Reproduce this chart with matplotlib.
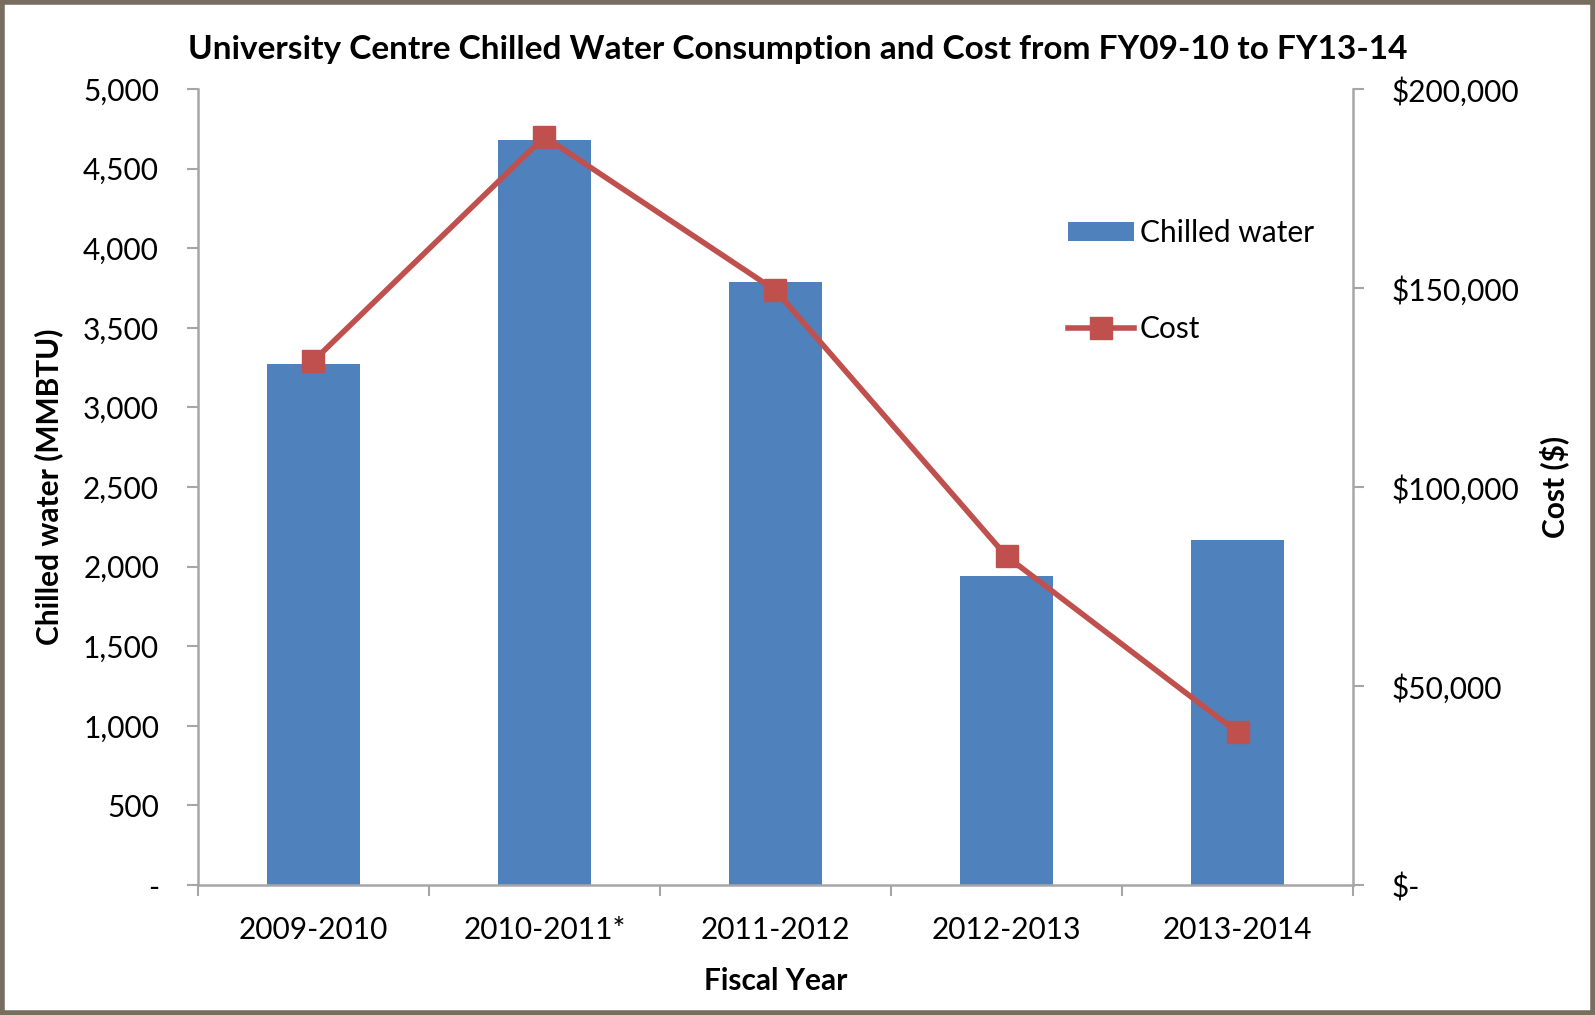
import matplotlib.pyplot as plt
from matplotlib.patches import Rectangle
from matplotlib.ticker import FuncFormatter, MultipleLocator
import numpy as np

plt.rcParams['font.family'] = ['Lato', 'DejaVu Sans']

# data
years = ["2009-2010", "2010-2011*", "2011-2012", "2012-2013", "2013-2014"]
chilled_water = [3275, 4680, 3790, 1940, 2165]     # MMBTU
cost = [131700, 188000, 149400, 82600, 38400]      # $

bar_color = "#4F81BD"
line_color = "#C0504D"
axis_grey = "#A6A6A6"
fs = 21.5

fig = plt.figure(figsize=(15.95, 10.15), dpi=100)
ax = fig.add_axes([0.1241, 0.128, 0.7242, 0.7843])

x = np.arange(len(years))
ax.bar(x, chilled_water, width=0.4, color=bar_color, label="Chilled water", zorder=2)
ax.set_xlim(-0.5, len(years) - 0.5)
ax.set_ylim(0, 5000)
ax.yaxis.set_major_locator(MultipleLocator(500))
ax.yaxis.set_major_formatter(FuncFormatter(lambda v, p: "-" if v == 0 else f"{int(v):,}"))
ax.set_xticks(x)
ax.set_xticklabels(years)
ax.set_xticks(np.arange(len(years) + 1) - 0.5, minor=True)
ax.tick_params(axis="x", which="major", length=0, pad=22, labelsize=fs)
ax.tick_params(axis="x", which="minor", length=8, width=1.5, color=axis_grey)
ax.tick_params(axis="y", length=8, width=1.5, color=axis_grey, labelsize=fs, pad=20)
for s in ["top", "right"]:
    ax.spines[s].set_visible(False)
for s in ["left", "bottom"]:
    ax.spines[s].set_color(axis_grey)
    ax.spines[s].set_linewidth(1.8)
ax.set_ylabel("Chilled water (MMBTU)", fontsize=fs, fontweight="bold", labelpad=14)
ax.set_xlabel("Fiscal Year", fontsize=fs, fontweight="bold", labelpad=17)

ax2 = ax.twinx()
ax2.plot(x, cost, color=line_color, linewidth=4, marker="s", markersize=16,
         label="Cost", zorder=3)
ax2.set_ylim(0, 200000)
ax2.yaxis.set_major_locator(MultipleLocator(50000))
ax2.yaxis.set_major_formatter(FuncFormatter(lambda v, p: "$-" if v == 0 else f"${int(v):,}"))
ax2.tick_params(axis="y", length=8, width=1.5, color=axis_grey, labelsize=fs, pad=20)
for s in ["top", "left", "bottom"]:
    ax2.spines[s].set_visible(False)
ax2.spines["right"].set_color(axis_grey)
ax2.spines["right"].set_linewidth(1.8)
ax2.set_ylabel("Cost ($)", fontsize=fs, fontweight="bold", labelpad=14)

h1, l1 = ax.get_legend_handles_labels()
h2, l2 = ax2.get_legend_handles_labels()
ax2.legend(h1 + h2, l1 + l2, loc="upper left", bbox_to_anchor=(0.73, 0.87),
           frameon=False, fontsize=fs, labelspacing=2.25, handlelength=2.2,
           handletextpad=0.2, handleheight=0.6)

fig.text(0.5, 0.951, "University Centre Chilled Water Consumption and Cost from FY09-10 to FY13-14",
         ha="center", va="center", fontsize=24, fontweight="bold")

# outer frame
fig.patches.append(Rectangle((0.0015, 0.002), 0.997, 0.996, transform=fig.transFigure,
                             fill=False, edgecolor="#776E5F", linewidth=4))

fig.savefig("out.png", dpi=100)
